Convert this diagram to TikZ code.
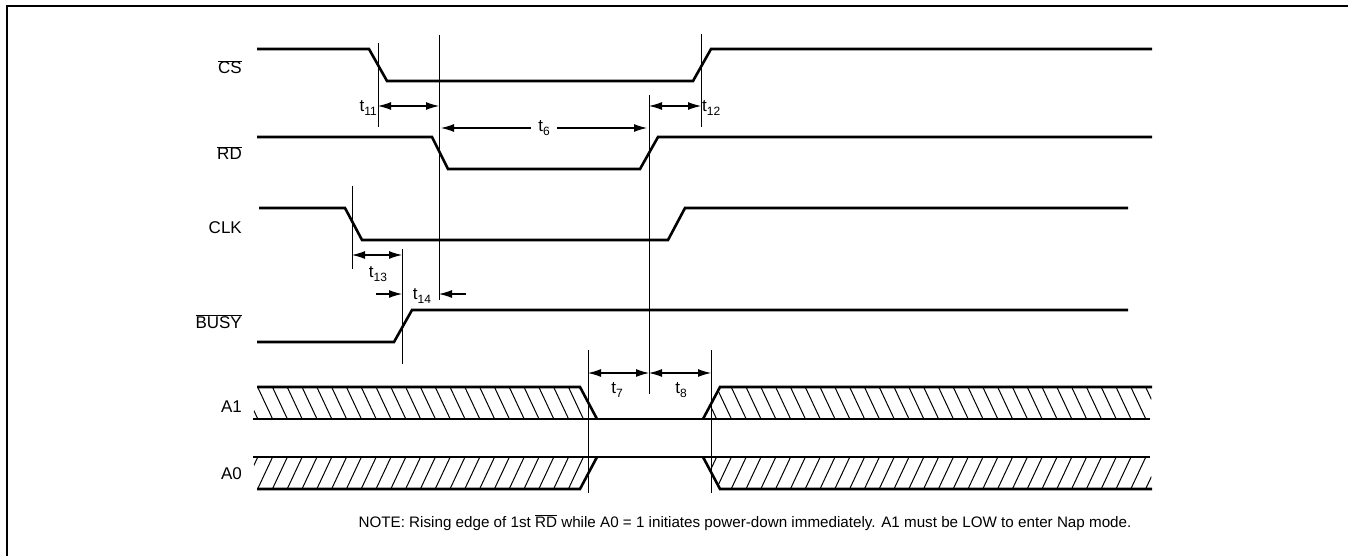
\documentclass[tikz,border=0pt]{standalone}
\usepackage{fontspec}
\setmainfont{Liberation Sans}
\usetikzlibrary{arrows.meta}

% Overlined signal names and timing labels
\newcommand{\ovl}[1]{$\overline{\mbox{#1}}$}
\newcommand{\tsub}[1]{t\raisebox{-4pt}{\fontsize{12}{12}\selectfont #1}}

\tikzset{
	wave/.style={line width=2.6pt, line join=miter},
	guide/.style={line width=0.9pt},
	span/.style={line width=1.1pt, {Latex[length=13pt,width=8pt]}-{Latex[length=13pt,width=8pt]}},
	half/.style={line width=1.1pt, -{Latex[length=13pt,width=8pt]}},
	hatchline/.style={line width=1pt},
	siglabel/.style={anchor=base east, inner sep=0pt, font=\fontsize{17}{20}\selectfont},
	tlabel/.style={inner sep=1pt, font=\fontsize{17}{20}\selectfont},
}

\begin{document}
\begin{tikzpicture}[x=1pt, y=-1pt]
	\useasboundingbox (0,0) rectangle (1348,556);
	
	% Frame (only top and left edges are in view)
	\draw[line width=2pt] (7,556) -- (7,6) -- (1348,6);
	
	% Signal names
	\node[siglabel] (csname) at (242,74) {\ovl{CS}};
	\node[siglabel] (rdname) at (242,160) {\ovl{RD}};
	\node[siglabel] (clkname) at (242,233) {CLK};
	\node[siglabel] (busyname) at (242,328) {\ovl{BUSY}};
	\node[siglabel] (aonename) at (242,412) {A1};
	\node[siglabel] (azeroname) at (242,479) {A0};
	
	% Waveforms
	\draw[wave] (257,49) -- (369,49) -- (387,81) -- (693,81) -- (711,49) -- (1152,49);
	\draw[wave] (257,137) -- (432,137) -- (448,169) -- (640,169) -- (658,137) -- (1152,137);
	\draw[wave] (259,208) -- (345,208) -- (362,240) -- (668,240) -- (685,208) -- (1128,208);
	\draw[wave] (257,342) -- (394,342) -- (412,310) -- (1128,310);
	
	% Hatching of the A1 bus
	\begin{scope}
		\clip (257,387) -- (580,387) -- (597,419) -- (253,419) -- cycle
		      (720,387) -- (1152,387) -- (1150,419) -- (703,419) -- cycle;
		\foreach \x in {228,242.8,...,1165}
			\draw[hatchline] (\x,387) -- (\x+15,419);
	\end{scope}
	
	% Hatching of the A0 bus
	\begin{scope}
		\clip (253,457) -- (597,457) -- (580,489) -- (257,489) -- cycle
		      (703,457) -- (1150,457) -- (1152,489) -- (720,489) -- cycle;
		\foreach \x in {228,242.8,...,1165}
			\draw[hatchline] (\x,489) -- (\x+15,457);
	\end{scope}
	
	% Bus outlines
	\draw[wave] (257,387) -- (580,387) -- (597,419);
	\draw[wave] (253,419) -- (1150,419);
	\draw[wave] (703,419) -- (720,387) -- (1152,387);
	\draw[wave] (257,489) -- (580,489) -- (597,457);
	\draw[wave] (253,457) -- (1150,457);
	\draw[wave] (703,457) -- (720,489) -- (1152,489);
	
	% Reference lines for the timings
	\coordinate (g11) at (378,43);
	\coordinate (grd) at (439,35);
	\coordinate (g6) at (649,95);
	\coordinate (g12) at (701,34);
	\coordinate (g13) at (352,186);
	\coordinate (gbusy) at (402,249);
	\coordinate (g7) at (588,350);
	\coordinate (g8) at (711,350);
	
	\draw[guide] (g11) -- ++(0,84);
	\draw[guide] (grd) -- ++(0,265);
	\draw[guide] (g6) -- ++(0,299);
	\draw[guide] (g12) -- ++(0,93);
	\draw[guide] (g13) -- ++(0,83);
	\draw[guide] (gbusy) -- ++(0,115);
	\draw[guide] (g7) -- ++(0,143);
	\draw[guide] (g8) -- ++(0,143);
	
	% Timing arrows
	\draw[span] (g11 |- 0,106) -- (grd |- 0,106);
	\node[tlabel, anchor=east] (t11) at (g11 |- 0,108) {\tsub{11}};
	
	\draw[span] (g6 |- 0,106) -- (g12 |- 0,106);
	\node[tlabel, anchor=west] (t12) at (g12 |- 0,108) {\tsub{12}};
	
	\draw[span, shorten <=2pt, shorten >=2pt] (grd |- 0,128) -- node[tlabel, fill=white, inner xsep=7pt] (t6) {\tsub{6}} (g6 |- 0,128);
	
	\draw[span] (g13 |- 0,255) -- (gbusy |- 0,255);
	\node[tlabel] (t13) at (378,274) {\tsub{13}};
	
	\coordinate (t14l) at (376,294);
	\coordinate (t14r) at (466,294);
	\draw[half] (t14l) -- (gbusy |- t14l);
	\draw[half] (t14r) -- (grd |- t14r);
	\node[tlabel] (t14) at (422,296) {\tsub{14}};
	
	\draw[span] (g7 |- 0,373) -- (g6 |- 0,373);
	\draw[span] (g6 |- 0,373) -- (g8 |- 0,373);
	\node[tlabel] (t7) at (617,390) {\tsub{7}};
	\node[tlabel] (t8) at (681,390) {\tsub{8}};
	
	% Note
	\node[anchor=base, inner sep=0pt, font=\fontsize{15.2}{18}\selectfont] (note) at (745,527)
		{NOTE: Rising edge of 1st \ovl{RD} while A0 = 1 initiates power-down immediately. A1 must be LOW to enter Nap mode.};
\end{tikzpicture}
\end{document}
